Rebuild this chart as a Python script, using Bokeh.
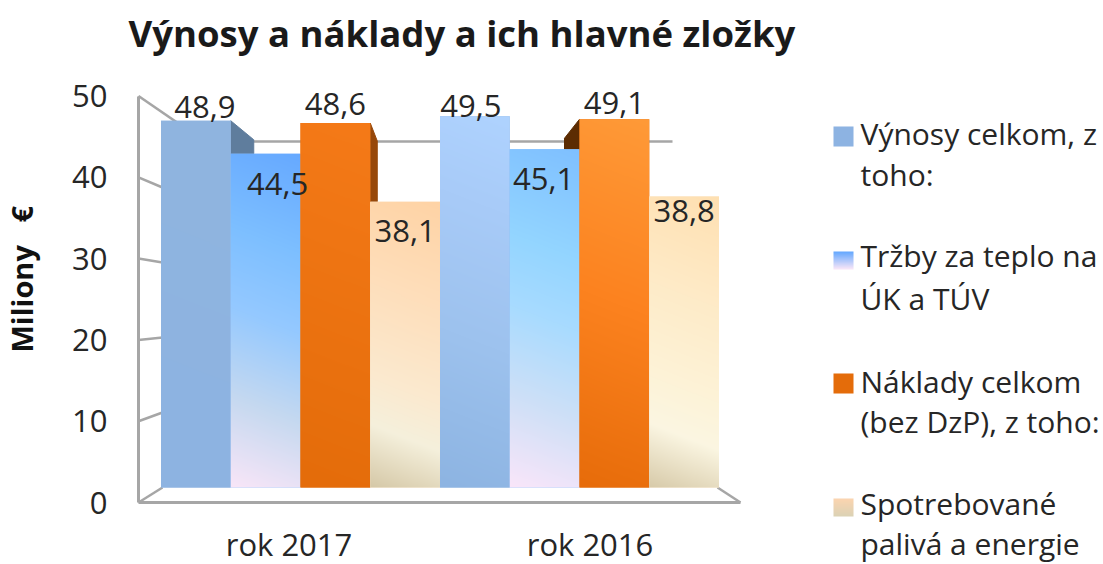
import math
import numpy as np
from bokeh.core.properties import value
from bokeh.embed import file_html
from bokeh.models import ColumnDataSource, FixedTicker, Range1d
from bokeh.plotting import figure
from bokeh.resources import INLINE

TITLE = "Výnosy a náklady a ich hlavné zložky"
Y_LABEL = "Miliony\u00a0\u00a0\u00a0€"
categories = ["rok 2017", "rok 2016"]
series_names = ["Výnosy celkom, z toho:", "Tržby za teplo na ÚK a TÚV",
                "Náklady celkom (bez DzP), z toho:", "Spotrebované palivá a energie"]
vynosy = [48.9, 49.5]
trzby = [44.5, 45.1]
naklady = [48.6, 49.1]
palivo = [38.1, 38.8]
y_ticks = [0, 10, 20, 30, 40, 50]
legend_lines = [["Výnosy celkom, z", "toho:"], ["Tržby za teplo na", "ÚK a TÚV"],
                ["Náklady celkom", "(bez DzP), z toho:"], ["Spotrebované", "palivá a energie"]]

FONT = "Open Sans"
FS = "31px"
LEG_FS = "30px"
TXT = "#262626"
AX = "#a6a6a6"
BASE_FIX = 12  # alphabetic text lands this many pixels low in the svg output

# geometry, in pixels of the 1103x564 picture
W, H = 1103, 564
PX_L, PX_R, PX_B = 138, 740, 502
AXIS_K = 8.13               # wall front edge: px per unit
BAR_0, BAR_K = 487, 7.5     # bar plane: baseline and px per unit
GROUP0, GROUP_W = 300.0, 279.0
AXIS_X_K = (PX_R - PX_L) / len(categories)


def wall_y(v):
    return PX_B - AXIS_K * v


def bar_y(v):
    return BAR_0 - BAR_K * v


def hexrgb(c):
    return [int(c[i:i + 2], 16) for i in (1, 3, 5)]


def gradient(stops, w_px, h_px, tilt=0.4):
    """RGBA image (rows bottom-up) running from the top right to the bottom left."""
    w, h = max(int(w_px), 2), max(int(h_px), 2)
    xs, ys = np.meshgrid(np.arange(w), np.arange(h))
    s = (ys + (w - 1 - xs) * tilt) / (h - 1 + (w - 1) * tilt)
    pos = [p for p, _ in stops]
    rgb = np.array([hexrgb(c) for _, c in stops], dtype=float)
    out = np.zeros((h, w), dtype=np.uint32)
    view = out.view(np.uint8).reshape((h, w, 4))
    for k in range(3):
        view[:, :, k] = np.interp(s, pos, rgb[:, k]).astype(np.uint8)
    view[:, :, 3] = 255
    return out[::-1]


grad = {
    (0, 0): [(0, "#90B5DF"), (1, "#8DB3E2")],
    (1, 0): [(0, "#66A9FF"), (.28, "#7DBFFF"), (.5, "#95C9FF"), (.75, "#C6D9F0"), (1, "#F9E6F8")],
    (2, 0): [(0, "#F57A18"), (1, "#E46C0A")],
    (3, 0): [(0, "#FFD3A5"), (.35, "#FEDFBC"), (.65, "#FBEAD0"), (.8, "#F5F0DC"), (1, "#D6C9A8")],
    (0, 1): [(0, "#AFD3FF"), (.25, "#A8CBF8"), (.6, "#9DC2EE"), (1, "#8DB4E2")],
    (1, 1): [(0, "#7FC0FF"), (.3, "#93D5FF"), (.5, "#A8DBFF"), (.75, "#CFE0F7"), (1, "#FAE6FA")],
    (2, 1): [(0, "#FF9A38"), (.5, "#FC821F"), (1, "#E76C0A")],
    (3, 1): [(0, "#FFE0B2"), (.35, "#FEEBC8"), (.65, "#FDF3D8"), (.8, "#FBF6E2"), (1, "#D8CBAA")],
}
flat = ["#8DB3E2", "#7FB8FF", "#E46C0A", "#FBE3C4"]
swatch_grad = [
    [(0, "#8DB3E2"), (1, "#8DB3E2")],
    [(0, "#66A9FF"), (1, "#F9E6F8")],
    [(0, "#E46C0A"), (1, "#E46C0A")],
    [(0, "#FBD5B0"), (1, "#DCD2B5")],
]

# label offsets from the bar top, pixels: (series, group) -> dx, dy
label_offset = {
    (0, 0): (9, -2), (1, 0): (12, 42), (2, 0): (0, -7), (3, 0): (0, 41),
    (0, 1): (-4, 2), (1, 1): (-1, 42), (2, 1): (0, -4), (3, 1): (0, 26),
}

p = figure(
    width=W, height=H, output_backend="svg", toolbar_location=None,
    x_range=Range1d(-PX_L / AXIS_X_K, (W - PX_L) / AXIS_X_K),
    y_range=Range1d((PX_B - H) / AXIS_K, PX_B / AXIS_K),
    min_border=0, outline_line_color=None, background_fill_color="white",
)
p.grid.visible = False

p.extra_x_ranges = {
    "bars": Range1d(-GROUP0 / GROUP_W, (W - GROUP0) / GROUP_W),
    "px": Range1d(0, W),
}
p.extra_y_ranges = {
    "bars": Range1d((BAR_0 - H) / BAR_K, BAR_0 / BAR_K),
    "px": Range1d(-H, 0),
}
PX = dict(x_range_name="px", y_range_name="px")
BARS = dict(x_range_name="bars", y_range_name="bars")

ya = p.yaxis[0]
ya.fixed_location = 0
ya.ticker = FixedTicker(ticks=y_ticks)
ya.bounds = (0, 50)
ya.axis_line_color = AX
ya.axis_line_width = 3
ya.major_tick_line_color = None
ya.minor_tick_line_color = None
ya.major_tick_out = 0
ya.major_tick_in = 0
ya.major_label_standoff = 31
ya.major_label_text_font = FONT
ya.major_label_text_font_size = FS
ya.major_label_text_color = TXT

xa = p.xaxis[0]
xa.fixed_location = 0
xa.ticker = FixedTicker(ticks=[i + 0.5 for i in range(len(categories))])
xa.major_label_overrides = {i + 0.5: c for i, c in enumerate(categories)}
xa.bounds = (0, len(categories))
xa.axis_line_color = AX
xa.axis_line_width = 3
xa.major_tick_line_color = None
xa.minor_tick_line_color = None
xa.major_tick_out = 0
xa.major_tick_in = 0
xa.major_label_standoff = 20
xa.major_label_text_font = FONT
xa.major_label_text_font_size = FS
xa.major_label_text_color = TXT

# title and y-axis title
p.text([128], [-(46 - BASE_FIX * 36 / 31)], text=[TITLE], text_align="left", text_baseline="alphabetic",
       text_font=value(FONT), text_font_size="36.5px", text_font_style="bold", text_color="#1a1a1a", **PX)
p.text([32 - BASE_FIX * 29 / 31], [-352], text=[Y_LABEL], angle=math.pi / 2, text_align="left",
       text_baseline="alphabetic", text_font=value(FONT), text_font_size="29px", text_font_style="bold",
       text_color="#111111", **PX)

# walls: slanted tick lines, back gridline, floor edge
BACK_X, BACK_END = 204, 672
seg_t = [t for t in y_ticks if t > 0]
seg_x0 = [PX_L for _ in seg_t]
seg_x1 = [BACK_X if t == 50 else 162 for t in seg_t]
seg_y0 = [-wall_y(t) for t in seg_t]
back_50 = wall_y(50) + (bar_y(50) - wall_y(50)) * (BACK_X - PX_L) / (162 - PX_L)
seg_y1 = [-back_50 if t == 50 else -bar_y(t) for t in seg_t]
p.segment(seg_x0, seg_y0, seg_x1, seg_y1, line_color=AX, line_width=2.5, **PX)
p.segment([PX_L, PX_R], [-PX_B, -PX_B], [162, 717], [-bar_y(0), -bar_y(0)], line_color=AX, line_width=2.5, **PX)
p.segment([BACK_X], [-back_50], [BACK_END], [-back_50], line_color=AX, line_width=2.5, **PX)

series = [vynosy, trzby, naklady, palivo]
BW = 0.25


def bar_x(j, g):
    return g + (j - 1.5) * BW


# side faces
def side(x_edge, top, bottom, dx_px, dy_px, color):
    dx = dx_px / GROUP_W
    dv = dy_px / BAR_K
    p.patch([x_edge, x_edge + dx, x_edge + dx, x_edge], [top, top - dv, bottom, bottom],
            fill_color=color, line_color=color, **BARS)


side(bar_x(0, 0) + BW / 2, vynosy[0], trzby[0], 23, 19, "#5F7D9D")
side(bar_x(2, 0) + BW / 2, naklady[0], palivo[0], 7, 18, "#97480A")
side(bar_x(2, 1) - BW / 2, naklady[1], trzby[1], -15, 19, "#5C2C02")

# bars: flat column from the data with the gradient image laid over it
for j, vals in enumerate(series):
    xs = [bar_x(j, g) for g in range(2)]
    src = ColumnDataSource(dict(x=xs, top=vals))
    p.vbar(x="x", top="top", bottom=0, width=BW, source=src, fill_color=flat[j], line_color=None, **BARS)
    for g, v in enumerate(vals):
        img = gradient(grad[(j, g)], BW * GROUP_W, v * BAR_K)
        p.image_rgba(image=[img], x=[xs[g] - BW / 2], y=[0], dw=[BW], dh=[v], **BARS)

# value labels
for j, vals in enumerate(series):
    for g, v in enumerate(vals):
        dx, dy = label_offset[(j, g)]
        p.text([bar_x(j, g)], [v], text=[f"{v:.1f}".replace(".", ",")],
               x_offset=dx, y_offset=dy - BASE_FIX, text_align="center", text_baseline="alphabetic",
               text_font=value(FONT), text_font_size=FS, text_color=TXT, **BARS)

# legend
swatch_tops = [126, 251, 373, 498]
swatch_h = [20, 18, 20, 18]
baselines = [(145, 186), (267, 310), (393, 433), (515, 555)]
for i, lines in enumerate(legend_lines):
    img = gradient(swatch_grad[i], 20, swatch_h[i], tilt=0)
    p.image_rgba(image=[img], x=[833], y=[-(swatch_tops[i] + swatch_h[i])], dw=[20], dh=[swatch_h[i]], **PX)
    p.text([860, 860], [-baselines[i][0] + BASE_FIX, -baselines[i][1] + BASE_FIX],
           text=lines, text_align="left", text_baseline="alphabetic",
           text_font=value(FONT), text_font_size=LEG_FS, text_color=TXT, **PX)

open("out.html", "w").write(file_html(p, INLINE))
